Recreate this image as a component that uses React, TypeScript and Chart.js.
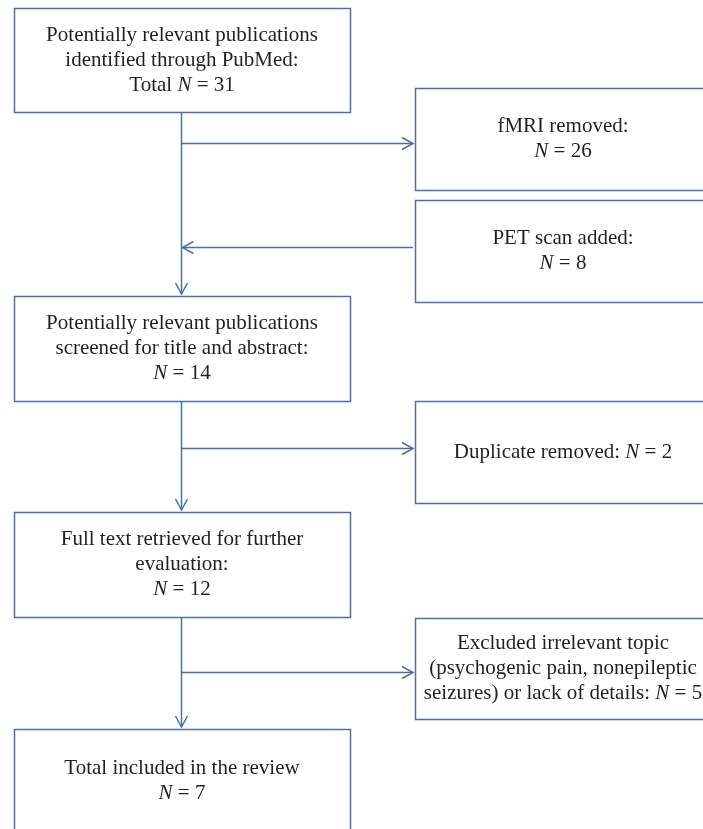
import React, { useEffect, useRef } from "react";
import { Chart, registerables } from "chart.js";

Chart.register(...registerables);

// ---- Data ----
const nodeTexts: string[][] = [
  ["Potentially relevant publications", "identified through PubMed:", "Total "],
  ["fMRI removed:", ""],
  ["PET scan added:", ""],
  ["Potentially relevant publications", "screened for title and abstract:", ""],
  ["Duplicate removed: "],
  ["Full text retrieved for further", "evaluation:", ""],
  ["Excluded irrelevant topic", "(psychogenic pain, nonepileptic", "seizures) or lack of details: "],
  ["Total included in the review", ""],
];
const nodeCounts = [31, 26, 8, 14, 2, 12, 5, 7];
// flow: main sequence and side branches (from main segment, side node, direction)
const mainFlow = [0, 3, 5, 7];
const sideNodes = [1, 2, 4, 6];
const sideDirection = ["out", "in", "out", "out"];

// ---- Layout (diagram coordinate space) ----
const W = 703;
const H = 829;
const colLeft = [14, 415];
const colRight = [350, 720];
const nodeColumn = [0, 1, 1, 0, 1, 0, 1, 0];
const nodeTop = [8, 88, 200, 296, 401, 512, 618, 729];
const nodeBottom = [112, 190, 302, 401, 503, 617, 719, 832];
const sideArrowY = [142.5, 247, 448, 672];
const textCenterX = [182, 563];
const mainLineX = 181.5;

const LINE = "#4a70a6";
const TEXT = "#231f20";
const FONT = '"Liberation Serif", "DejaVu Serif", serif';
const FS = 21;
const LH = 25;

const flowPlugin = {
  id: "flow",
  afterDatasetsDraw(chart: any) {
    const ctx: CanvasRenderingContext2D = chart.ctx;
    const xs = chart.scales.x;
    const ys = chart.scales.y;
    const px = (v: number) => xs.getPixelForValue(v);
    const py = (v: number) => ys.getPixelForValue(v);
    ctx.save();
    ctx.strokeStyle = LINE;
    ctx.lineWidth = 1.5;
    ctx.lineCap = "butt";

    const arrowHead = (x: number, y: number, dir: "down" | "left" | "right") => {
      const L = 11, hw = 6;
      ctx.beginPath();
      if (dir === "down") {
        ctx.moveTo(x - hw, y - L); ctx.lineTo(x, y); ctx.lineTo(x + hw, y - L);
      } else if (dir === "right") {
        ctx.moveTo(x - L, y - hw); ctx.lineTo(x, y); ctx.lineTo(x - L, y + hw);
      } else {
        ctx.moveTo(x + L, y - hw); ctx.lineTo(x, y); ctx.lineTo(x + L, y + hw);
      }
      ctx.stroke();
    };

    // boxes
    nodeTexts.forEach((_, i) => {
      const c = nodeColumn[i];
      const x0 = px(colLeft[c]);
      const x1 = px(colRight[c]);
      const y0 = py(nodeTop[i]);
      const y1 = py(nodeBottom[i]);
      ctx.strokeRect(Math.round(x0) + 0.5, Math.round(y0) + 0.5, Math.round(x1 - x0), Math.round(y1 - y0));
    });

    // main vertical flow
    for (let k = 0; k < mainFlow.length - 1; k++) {
      const a = mainFlow[k], b = mainFlow[k + 1];
      const x = px(mainLineX);
      const y0 = py(nodeBottom[a]);
      const y1 = py(nodeTop[b]) - 2;
      ctx.beginPath(); ctx.moveTo(x, y0); ctx.lineTo(x, y1); ctx.stroke();
      arrowHead(x, y1, "down");
    }

    // side branches
    sideNodes.forEach((n, k) => {
      const y = Math.round(py(sideArrowY[k])) + 0.5;
      const xm = px(mainLineX);
      const xs2 = px(colLeft[nodeColumn[n]]) - 2;
      ctx.beginPath(); ctx.moveTo(xm, y); ctx.lineTo(xs2, y); ctx.stroke();
      if (sideDirection[k] === "out") arrowHead(xs2, y, "right");
      else arrowHead(xm + 1, y, "left");
    });

    // texts
    ctx.fillStyle = TEXT;
    ctx.textBaseline = "middle";
    ctx.textAlign = "left";
    const roman = `${FS}px ${FONT}`;
    const ital = `italic ${FS}px ${FONT}`;
    nodeTexts.forEach((lines, i) => {
      const c = nodeColumn[i];
      const cx = px(textCenterX[c]);
      const cy = (py(nodeTop[i]) + py(nodeBottom[i])) / 2;
      const n = lines.length;
      lines.forEach((line, li) => {
        const segs: { t: string; f: string }[] = [];
        if (line) segs.push({ t: line, f: roman });
        if (li === n - 1) {
          segs.push({ t: "N", f: ital });
          segs.push({ t: " = " + nodeCounts[i], f: roman });
        }
        let total = 0;
        segs.forEach((s) => { ctx.font = s.f; total += ctx.measureText(s.t).width; });
        let x = cx - total / 2;
        const y = cy + (li - (n - 1) / 2) * LH;
        segs.forEach((s) => {
          ctx.font = s.f;
          ctx.fillText(s.t, x, y);
          x += ctx.measureText(s.t).width;
        });
      });
    });
    ctx.restore();
  },
};

export default function App() {
  const ref = useRef<HTMLCanvasElement | null>(null);
  useEffect(() => {
    document.body.style.margin = "0";
    const canvas = ref.current;
    if (!canvas) return;
    const chart = new Chart(canvas, {
      type: "scatter",
      data: {
        datasets: [
          {
            label: "nodes",
            data: nodeTexts.map((_, i) => ({
              x: textCenterX[nodeColumn[i]],
              y: (nodeTop[i] + nodeBottom[i]) / 2,
            })),
            pointRadius: 0,
          },
        ],
      },
      options: {
        animation: false,
        responsive: true,
        maintainAspectRatio: false,
        layout: { padding: 0 },
        events: [],
        plugins: { legend: { display: false }, tooltip: { enabled: false } },
        scales: {
          x: { type: "linear", min: 0, max: W, display: false },
          y: { type: "linear", min: 0, max: H, reverse: true, display: false },
        },
      },
      plugins: [flowPlugin],
    });
    return () => chart.destroy();
  }, []);
  return (
    <div style={{ position: "absolute", left: 0, top: 0, width: W, height: H, background: "#fff" }}>
      <canvas ref={ref} />
    </div>
  );
}
